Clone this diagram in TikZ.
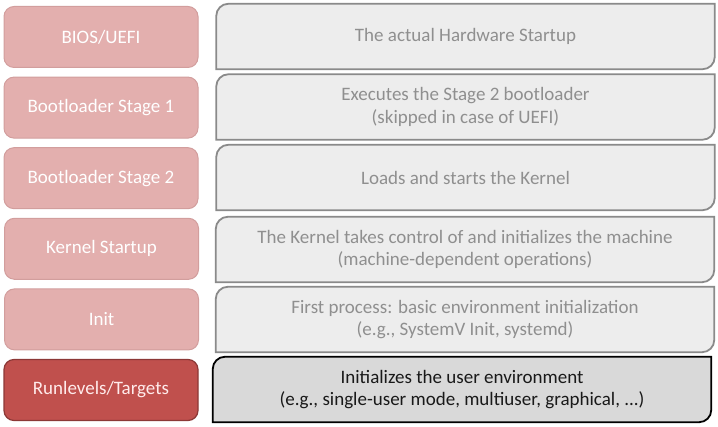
\documentclass[tikz,border=0pt]{standalone}
\usepackage{fontspec}
\setmainfont{Carlito}
\usetikzlibrary{backgrounds}
\definecolor{lfill}{HTML}{E3AFAE}
\definecolor{ldraw}{HTML}{D29E9D}
\definecolor{hfill}{HTML}{C0504D}
\definecolor{hdraw}{HTML}{8C3836}
\definecolor{rfill}{HTML}{EDEDED}
\definecolor{rdraw}{HTML}{8A8A8A}
\definecolor{rtext}{HTML}{8F8F8F}
\definecolor{sfill}{HTML}{D9D9D9}
\tikzset{
  lbox/.style={rectangle, rounded corners=10pt, fill=lfill, draw=ldraw, line width=1pt,
    minimum width=194pt, minimum height=61pt, inner sep=0pt, text=white,
    font=\fontsize{19}{22.5}\selectfont},
  lboxhi/.style={lbox, fill=hfill, draw=hdraw, line width=1.2pt, text=white!92!red},
  rbox/.style={rectangle, minimum width=498pt, minimum height=65pt, inner sep=0pt,
    align=center, text=rtext, font=\fontsize{19}{22.5}\selectfont},
  rshape/.style={fill=rfill, draw=rdraw, line width=1.8pt},
  rshapehi/.style={fill=sfill, draw=black, line width=1.8pt},
}
\newcommand{\diagshape}[2]{%
  \draw[#2] ([yshift=-12pt]#1.north west) arc[start angle=180,end angle=90,radius=12pt]
    -- (#1.north east) -- ([yshift=12pt]#1.south east)
    arc[start angle=0,end angle=-90,radius=12pt] -- (#1.south west) -- cycle;}
\begin{document}
\begin{tikzpicture}[x=1pt,y=1pt]
\useasboundingbox (0,0) rectangle (718,427);
\node[lbox] (l1) at (101,390) {BIOS/UEFI};
\node[lbox] (l2) at (101,319.4) {Bootloader Stage 1};
\node[lbox] (l3) at (101,248.8) {Bootloader Stage 2};
\node[lbox] (l4) at (101.5,178.2) {Kernel Startup};
\node[lbox] (l5) at (101.5,107.6) {Init};
\node[lboxhi] (l6) at (101,37) {Runlevels/Targets};
\node[rbox] (r1) at (465.5,390.5) {The actual Hardware Startup};
\node[rbox] (r2) at (465.5,320) {Executes the Stage 2 bootloader\\(skipped in case of UEFI)};
\node[rbox] (r3) at (465.5,249.5) {Loads and starts the Kernel};
\node[rbox] (r4) at (465,177.5) {The Kernel takes control of and initializes the machine\\(machine-dependent operations)};
\node[rbox] (r5) at (465,107.5) {First process: basic environment initialization\\(e.g., SystemV Init, systemd)};
\node[rbox, text=black!90] (r6) at (462,37.5) {Initializes the user environment\\(e.g., single-user mode, multiuser, graphical, ...)};
\begin{scope}[on background layer]
\diagshape{r1}{rshape}
\diagshape{r2}{rshape}
\diagshape{r3}{rshape}
\diagshape{r4}{rshape}
\diagshape{r5}{rshape}
\diagshape{r6}{rshapehi}
\end{scope}
\end{tikzpicture}
\end{document}
